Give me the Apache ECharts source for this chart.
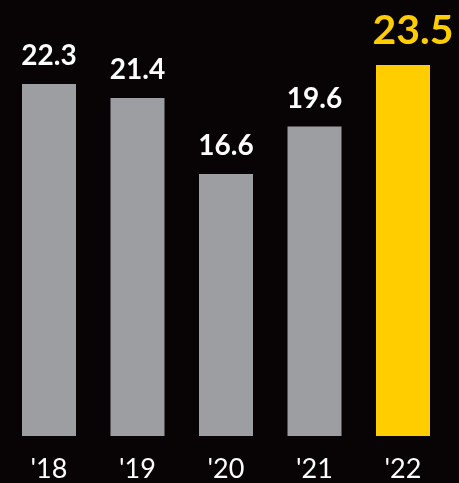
<!DOCTYPE html>
<html><head><meta charset="utf-8">
<script src="https://cdn.jsdelivr.net/npm/echarts@6/dist/echarts.min.js"></script>
<style>html,body{margin:0;padding:0;background:#080304;}#c{width:459px;height:483px;}</style>
</head><body><div id="c"></div>
<script>
const categories = ["'18", "'19", "'20", "'21", "'22"];
const values = [22.3, 21.4, 16.6, 19.6, 23.5];
const highlightIndex = 4;

const chart = echarts.init(document.getElementById('c'), null, {renderer: 'canvas'});
chart.setOption({
  backgroundColor: '#080304',
  animation: false,
  grid: {left: 4.75, right: 11.75, top: 41.25, bottom: 47, containLabel: false},
  xAxis: {
    type: 'category', data: categories,
    axisLine: {show: false}, axisTick: {show: false},
    axisLabel: {color: '#ffffff', fontSize: 27, fontFamily: 'Lato', margin: 20}
  },
  yAxis: {type: 'value', min: 0, max: 25, show: false, splitLine: {show: false}},
  series: [{
    type: 'bar', barWidth: 54,
    data: values.map((v, i) => ({
      value: v,
      itemStyle: {color: i === highlightIndex ? '#ffcd00' : '#9d9ea1'},
      label: i === highlightIndex
        ? {color: '#ffcd00', fontSize: 41, distance: 14, offset: [10, 0]}
        : {color: '#ffffff', fontSize: 28, distance: 14}
    })),
    label: {show: true, position: 'top', fontWeight: 'bold', fontFamily: 'Lato',
      formatter: p => p.value.toFixed(1)}
  }]
});
</script></body></html>
